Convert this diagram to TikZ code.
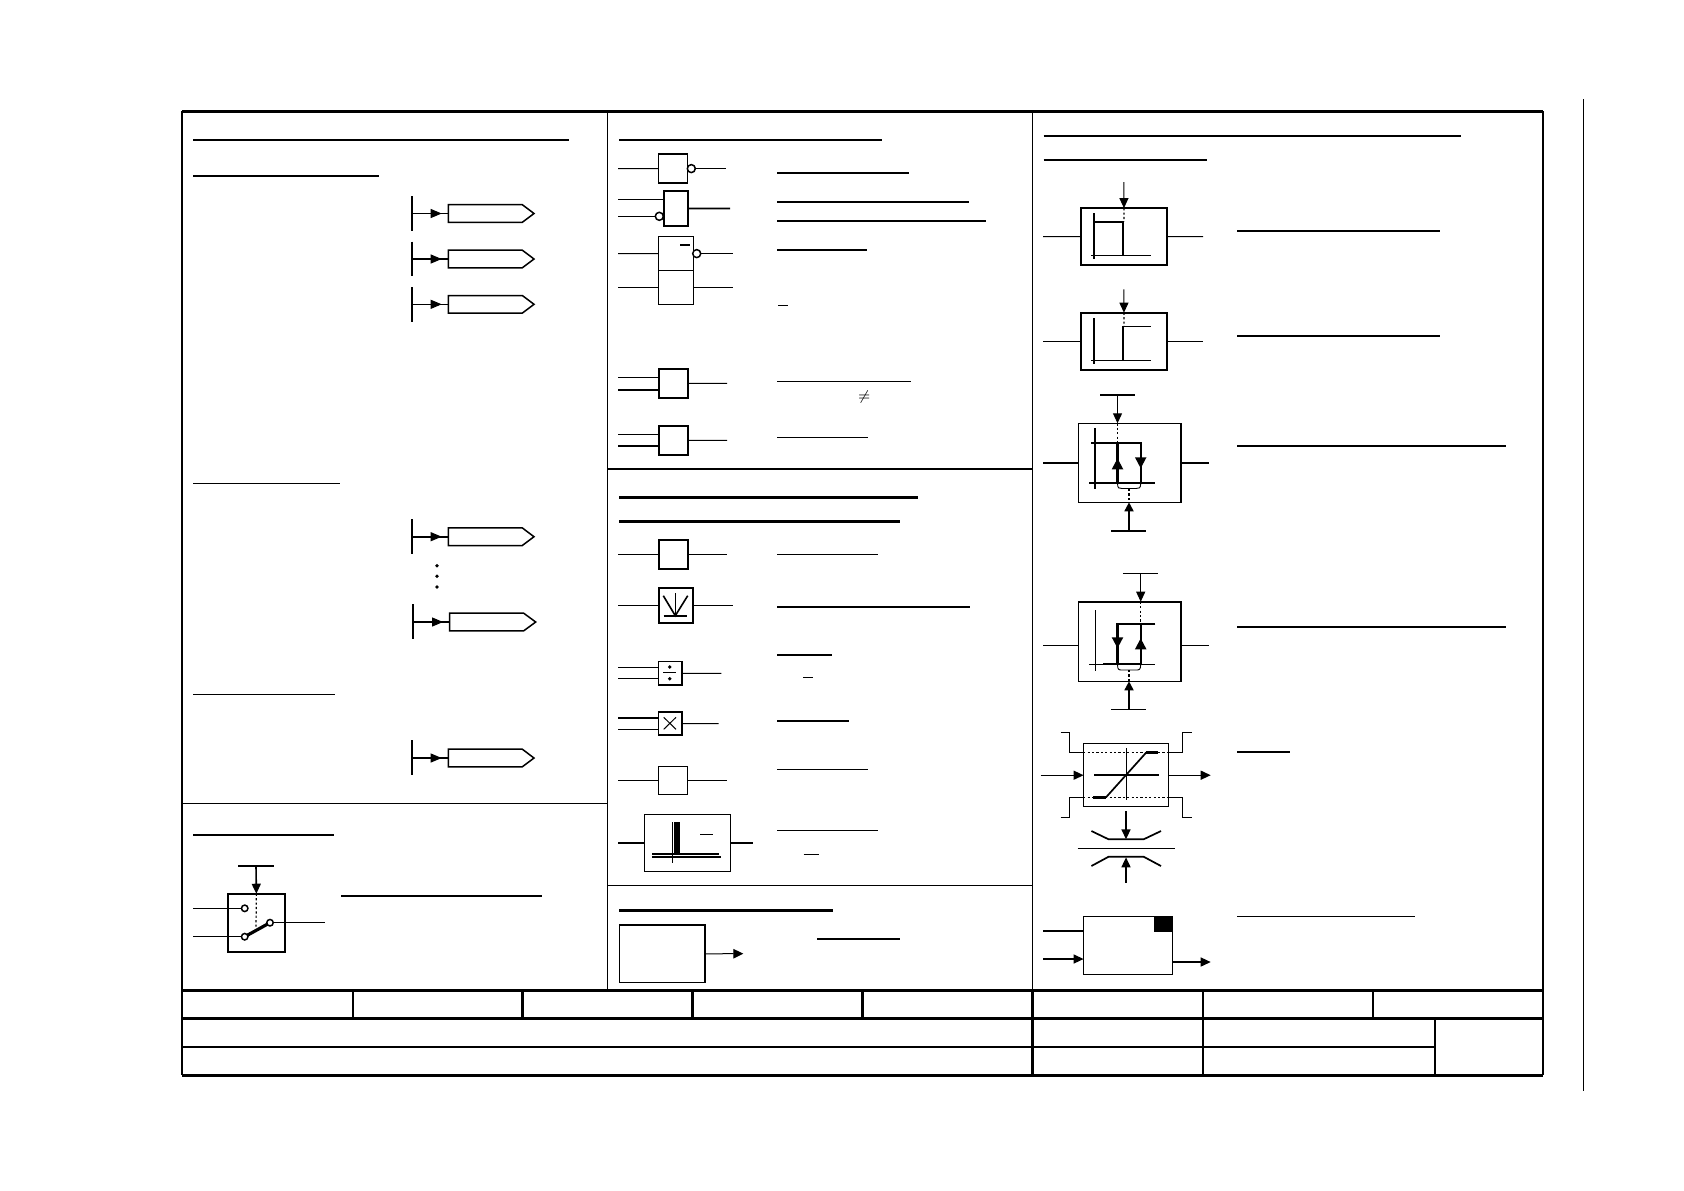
\documentclass[tikz,border=0pt]{standalone}
\usetikzlibrary{arrows.meta,calc}
\tikzset{
  x=0.5pt,y=-0.5pt,
  lw/.style={line width=#1*0.5pt},
  arr/.style={-{Triangle[length=#1*0.5pt,width=9*0.5pt]}},
  arr/.default=10,
  barr/.style={-{Triangle[length=11*0.5pt,width=11*0.5pt]}},
  dots/.style={lw=1.2,dash pattern=on 1.1pt off 1.1pt},
  hollow/.style={draw,circle,fill=white,lw=1.5,inner sep=0pt,minimum size=#1*0.5pt,outer sep=0pt},
}
% box: name, x1,y1,x2,y2, line width
\newcommand{\bx}[6]{%
  \pgfmathsetmacro{\bw}{(#4-#2)*0.5}\pgfmathsetmacro{\bh}{(#5-#3)*0.5}%
  \node[draw,lw=#6,anchor=north west,inner sep=0pt,outer sep=0pt,minimum width=\bw pt,minimum height=\bh pt] (#1) at (#2+0.4,#3+0.4) {};}
% signal symbol: name, bar x, bar y1, bar y2, box x, y mid, shoulder x, tip x, wire width
\newcommand{\sig}[9]{%
  \coordinate (#1t) at (#2,#3);\coordinate (#1b) at (#2,#4);\coordinate (#1m) at (#2,#6);
  \coordinate (#1l) at (#5,#6);\coordinate (#1h) at ($(#1l)+(-6.6,0)$);
  \draw[lw=1.7] (#1t)--(#1b);
  \draw[lw=#9] (#1m)--(#1l);
  \draw[lw=1,arr=11] ($(#1h)+(-11,0)$)--(#1h);
  \draw[lw=1.5] (#5,#6-8.8)--(#7,#6-8.8)--(#8,#6)--(#7,#6+8.8)--(#5,#6+8.8)--cycle;}
% underline
\newcommand{\ul}[4]{\coordinate (u1) at (#2,#1);\coordinate (u2) at (#3,#1);\draw[lw=#4] (u1)--(u2);}
\begin{document}
\begin{tikzpicture}
\useasboundingbox (0,0) rectangle (1684,1190);
\fill[white] (0,0) rectangle (1684,1190);
% ===== frame
\coordinate (fnw) at (182,111.3);\coordinate (fne) at (1542.9,111.3);
\coordinate (fsw) at (182,1075.3);\coordinate (fse) at (1542.9,1075.3);
\draw[lw=3] (fnw)--(fne);\draw[lw=3] (fsw)--(fse);
\draw[lw=2.2] (fnw)--(fsw);\draw[lw=1.9] (fne)--(fse);
\draw[lw=1.1] (1583.6,99)--(1583.6,1090.7);
% panels
\draw[lw=1.2] (607.3,111.3)--(607.3,990.7);
\draw[lw=1.2] (1032.4,111.3)--(1032.4,990.7);
\draw[lw=1] (182,803.3)--(607,803.3);
\draw[lw=1.6] (607,469)--(1032.4,469);
\draw[lw=1] (607,885.3)--(1032.4,885.3);
% title block
\draw[lw=3] (182,990.7)--(1542.9,990.7);
\draw[lw=3] (182,1018.3)--(1542.9,1018.3);
\draw[lw=2] (182,1047)--(1435,1047);
\foreach \xx in {352.7,522.3,692.3,862.3}{\draw[lw=2.4] (\xx,990.7)--(\xx,1018.3);}
\draw[lw=2.6] (1032.4,990.7)--(1032.4,1075.3);
\draw[lw=2] (1202.9,990.7)--(1202.9,1075.3);
\draw[lw=1.4] (1373,990.7)--(1373,1018.3);
\draw[lw=1.6] (1435,1018.3)--(1435,1075.3);
% ===== left panel
\ul{140}{193}{569}{2}\ul{176}{193}{379}{2}
\ul{483.3}{193}{340}{1}\ul{694.3}{193}{335}{1}
\ul{834.7}{193}{334}{1.7}\ul{896}{341}{542}{2}
\sig{sa}{411.7}{196}{230.7}{448.3}{213.5}{522.3}{534}{1}
\sig{sb}{411.7}{241.7}{276}{448.3}{259}{522.3}{534}{1.6}
\sig{sc}{411.7}{287}{321.7}{448.3}{304.3}{522.3}{534}{1}
\sig{sd}{411.7}{519.3}{554}{448.3}{536.7}{522.3}{534}{1.6}
\sig{se}{413}{604.3}{639}{449.7}{622}{523.7}{535.7}{1.6}
\sig{sf}{411.7}{740.3}{775}{448.3}{758}{522.3}{534}{1.3}
\foreach \yy in {565.7,576.3,587}{\fill (437,\yy) circle (1.9);}
% switch
\bx{sw}{227.3}{893.3}{284.7}{951.3}{1.6}
\coordinate (swa) at (238.3,866);\coordinate (swb) at (273.7,866);\coordinate (swc) at (256,866);
\draw[lw=1.6] (swa)--(swb);
\draw[lw=1.6,arr] (swc)--(sw.north);
\draw[dots] (sw.north)--(256,926.7);
\coordinate (swi1) at (193,908.3);\coordinate (swi2) at (193,936.7);\coordinate (swo) at (325,922.7);
\node[hollow=6.5] (c1) at (244.7,908.3) {};
\draw[lw=3.2] (244.7,936.7)--(270,922.7);
\node[hollow=6.5] (c2) at (244.7,936.7) {};
\node[hollow=6.5] (c3) at (270,922.7) {};
\draw[lw=1] (swi1)--(c1);\draw[lw=1] (swi2)--(c2);\draw[lw=1] (c3)--(swo);
% ===== middle panel, top
\ul{140}{619}{882}{2}
\bx{g1}{658.3}{153.7}{687.3}{182.7}{1.4}
\node[hollow=8] (g1c) at (691.3,168.6) {};
\coordinate (g1i) at (618,168.6);\coordinate (g1o) at (725.7,168.6);
\draw[lw=1] (g1i)--(g1.west);\draw[lw=1] (g1c)--(g1o);
\ul{172.7}{777}{909}{1.7}
\bx{g2}{663.7}{190.7}{687.3}{225.3}{1.7}
\node[hollow=8] (g2c) at (659.3,216.3) {};
\coordinate (g2a) at (618,199.3);\coordinate (g2b) at (618,216.3);\coordinate (g2o) at (730,208.4);
\draw[lw=1] (g2a)--(g2.west|-g2a);\draw[lw=1] (g2b)--(g2c);\draw[lw=1.7] (g2.east)--(g2o);
\ul{201.7}{777}{969}{1.7}\ul{221}{777}{986}{1.7}
\bx{g3a}{658.3}{236}{692.7}{270.3}{1.2}
\bx{g3b}{658.3}{270.3}{692.7}{304.3}{1.2}
\node[hollow=8] (g3c) at (696.7,253.6) {};
\coordinate (g3i) at (618,253.6);\coordinate (g3j) at (618,287.7);\coordinate (g3o) at (733,253.6);\coordinate (g3p) at (733,287.7);
\draw[lw=1] (g3i)--(g3a.west);\draw[lw=1] (g3j)--(g3b.west);\draw[lw=1] (g3c)--(g3o);\draw[lw=1] (g3b.east)--(g3p);
\draw[lw=1.6] (680.3,245)--(690,245);
\ul{250}{777}{867}{1.7}\ul{305.7}{778.3}{788.3}{1}
\bx{g4}{658.3}{368.7}{687.3}{397.3}{1.7}
\coordinate (g4a) at (618,377.3);\coordinate (g4b) at (618,390);\coordinate (g4o) at (727,383.4);
\draw[lw=1] (g4a)--(g4.west|-g4a);\draw[lw=1.6] (g4b)--(g4.west|-g4b);\draw[lw=1] (g4.east)--(g4o);
\ul{381.3}{777}{911}{1}
\node[inner sep=0pt,font=\fontsize{7}{8}\selectfont] (ne) at (864.3,396.7) {$\neq$};
\bx{g5}{658.3}{425.7}{687.3}{454.3}{1.7}
\coordinate (g5a) at (618,434.3);\coordinate (g5b) at (618,446);\coordinate (g5o) at (727,440.4);
\draw[lw=1] (g5a)--(g5.west|-g5a);\draw[lw=1.6] (g5b)--(g5.west|-g5b);\draw[lw=1] (g5.east)--(g5o);
\ul{437.3}{777}{868}{1}
% ===== middle panel, centre
\ul{497.3}{619}{918}{3}\ul{521.7}{619}{900}{3}
\bx{g6}{658.3}{539.3}{687.3}{568.3}{1.6}
\coordinate (g6i) at (618,554.2);\coordinate (g6o) at (727,554.2);
\draw[lw=1] (g6i)--(g6.west);\draw[lw=1] (g6.east)--(g6o);
\ul{554.3}{777}{878}{1}
\bx{g7}{658.3}{587.3}{692.7}{622.3}{1.7}
\coordinate (g7i) at (618,605.2);\coordinate (g7o) at (733,605.2);
\draw[lw=1] (g7i)--(g7.west);\draw[lw=1] (g7.east)--(g7o);
\draw[lw=1.6] (663.3,595.7)--(675.3,615.7)--(687.7,595.7);
\draw[lw=1] (675.3,593)--(675.3,615.7);
\draw[lw=1.6] (663.7,615.7)--(687.3,615.7);
\ul{607}{777}{970}{1.7}
\bx{g8}{658.3}{661.3}{681.7}{684.7}{1.5}
\coordinate (g8a) at (618,667);\coordinate (g8b) at (618,678.3);\coordinate (g8o) at (721.3,673.4);
\draw[lw=1] (g8a)--(g8.west|-g8a);\draw[lw=1] (g8b)--(g8.west|-g8b);\draw[lw=1] (g8.east)--(g8o);
\draw[lw=1.2] (663.3,672.7)--(676,672.7);
\fill (669.7,667) circle (1.9);\fill (669.7,678.7) circle (1.9);
\ul{654.7}{777}{832}{1.7}\ul{677.3}{803}{813}{1}
\bx{g9}{658.3}{711.7}{681.7}{734.7}{1.5}
\coordinate (g9a) at (618,718);\coordinate (g9b) at (618,729.3);\coordinate (g9o) at (718.7,723.6);
\draw[lw=1.7] (g9a)--(g9.west|-g9a);\draw[lw=1] (g9b)--(g9.west|-g9b);\draw[lw=1] (g9.east)--(g9o);
\draw[lw=1] (663.7,717.3)--(676,729.3);\draw[lw=1] (676,717.3)--(663.7,729.3);
\ul{720.7}{777}{849}{1.7}
\bx{g10}{658.3}{766.3}{687.3}{794.3}{1.5}
\coordinate (g10i) at (618,780.7);\coordinate (g10o) at (727,780.7);
\draw[lw=1] (g10i)--(g10.west);\draw[lw=1] (g10.east)--(g10o);
\ul{769.3}{777}{868}{1}
\bx{g11}{644.3}{814.3}{729.7}{871.3}{1.2}
\coordinate (g11i) at (618,843.2);\coordinate (g11o) at (752.7,843.2);
\draw[lw=1.6] (g11i)--(g11.west);\draw[lw=1.6] (g11.east)--(g11o);
\draw[lw=1] (672.3,822)--(672.3,863.3);
\fill (674,822) rectangle (680,853.3);
\draw[lw=2] (652,854)--(719,854);
\draw[lw=1.7] (652,857)--(721.3,857);
\draw[lw=1] (700.3,834.3)--(713,834.3);
\ul{830.3}{777}{878}{1}\ul{854.3}{803.7}{819}{1}
\ul{910.3}{619}{833}{2.7}
\bx{g12}{619}{924.7}{704.3}{982}{1.7}
\coordinate (g12o) at (743.3,953.7);
\draw[lw=1,-{Triangle[length=5pt,width=4.8pt]}] (g12.east)--(g12o);
\ul{939}{817}{900}{1.7}
% ===== right panel
\ul{135.7}{1043.6}{1461}{2}\ul{160}{1043.6}{1207}{2}
% box A
\bx{ra}{1080.7}{207.7}{1166.4}{264.7}{1.9}
\coordinate (rai) at (1043.2,236.6);\coordinate (rao) at (1203.2,236.6);\coordinate (rat) at (1123.9,182);
\draw[lw=1] (rai)--(ra.west);\draw[lw=1] (ra.east)--(rao);
\draw[lw=1,arr] (rat)--(ra.north);
\draw[dots] (ra.north)--(1123.9,221.7);
\draw[lw=1.5] (1094,213.3)--(1094,259.3);
\draw[lw=1.5] (1091.4,255.7)--(1150.7,255.7);
\draw[lw=1.5] (1094,222)--(1123.2,222)--(1123.2,255.7);
\ul{231}{1237}{1440}{1.7}
% box B
\bx{rb}{1080.7}{312.3}{1166.4}{369.3}{1.9}
\coordinate (rbi) at (1043.2,341.2);\coordinate (rbo) at (1203.2,341.2);\coordinate (rbt) at (1123.9,289.3);
\draw[lw=1] (rbi)--(rb.west);\draw[lw=1] (rb.east)--(rbo);
\draw[lw=1,arr] (rbt)--(rb.north);
\draw[dots] (rb.north)--(1123.9,326.7);
\draw[lw=1.5] (1094,318.3)--(1094,364);
\draw[lw=1.5] (1091.4,360.7)--(1150.7,360.7);
\draw[lw=1.5] (1123.2,360.7)--(1123.2,326.7)--(1150.7,326.7);
\ul{336}{1237}{1440}{1.7}
% box C
\bx{rc}{1077.9}{423.3}{1180.4}{502.3}{1.4}
\coordinate (rci) at (1043.2,463.2);\coordinate (rco) at (1208.6,463.2);
\draw[lw=1.6] (rci)--(rc.west);\draw[lw=1.6] (rc.east)--(rco);
\coordinate (rcta) at (1100.4,395);\coordinate (rctb) at (1135.4,395);\coordinate (rctc) at (1117.5,395);\coordinate (rctd) at (1117.5,423.3);
\draw[lw=1.7] (rcta)--(rctb);
\draw[lw=1,arr] (rctc)--(rctd);
\draw[dots] (rctd)--(1117.5,442.7);
\draw[lw=1.3] (1095,428.3)--(1095,489);
\draw[lw=1.7] (1089,483)--(1155.4,483);
\draw[lw=2.2] (1091.4,442.7)--(1140.7,442.7)--(1140.7,483);
\draw[lw=2.2] (1117.5,442.7)--(1117.5,483);
\draw[lw=2,barr] (1117.5,471)--(1117.5,458.3);
\draw[lw=2,barr] (1140.7,455.7)--(1140.7,468.3);
\draw[lw=0.9] (1117.5,483) .. controls (1117.5,488.5) and (1119,488.5) .. (1122,488.5)--(1136,488.5) .. controls (1139,488.5) and (1140.7,488.5) .. (1140.7,483);
\coordinate (rcba) at (1111.4,531);\coordinate (rcbb) at (1146.4,531);\coordinate (rcbc) at (1129,531);\coordinate (rcbd) at (1129,502.3);
\draw[dots] (1129,489)--(rcbd);
\draw[lw=1.7] (rcba)--(rcbb);
\draw[lw=1.7,arr=9] (rcbc)--(rcbd);
\ul{446}{1237}{1506}{1.7}
% box D
\bx{rd}{1077.9}{601.7}{1180.4}{681.3}{1.4}
\coordinate (rdi) at (1043.2,645);\coordinate (rdo) at (1208.6,645);
\draw[lw=1] (rdi)--(rd.west|-rdi);\draw[lw=1] (rd.east|-rdo)--(rdo);
\coordinate (rdta) at (1122.9,573.7);\coordinate (rdtb) at (1157.9,573.7);\coordinate (rdtc) at (1140.7,573.7);\coordinate (rdtd) at (1140.7,601.7);
\draw[lw=1.5] (rdta)--(rdtb);
\draw[lw=1,arr] (rdtc)--(rdtd);
\draw[dots] (rdtd)--(1140.7,624.3);
\draw[lw=1] (1095,610)--(1095,670.7);
\draw[lw=1] (1089,664.3)--(1155,664.3);
\draw[lw=2.2] (1103.2,664.3)--(1140.7,664.3);
\draw[lw=2.2] (1155.4,624.3)--(1117.5,624.3)--(1117.5,664.3);
\draw[lw=2.2] (1140.7,624.3)--(1140.7,664.3);
\draw[lw=2,barr] (1117.5,636)--(1117.5,648.3);
\draw[lw=2,barr] (1140.7,651)--(1140.7,638.3);
\draw[lw=0.9] (1117.5,664.3) .. controls (1117.5,670) and (1119,670) .. (1122,670)--(1136,670) .. controls (1139,670) and (1140.7,670) .. (1140.7,664.3);
\coordinate (rdba) at (1111.4,709.3);\coordinate (rdbb) at (1146.4,709.3);\coordinate (rdbc) at (1129,709.3);\coordinate (rdbd) at (1129,681.3);
\draw[dots] (1129,670)--(rdbd);
\draw[lw=1] (rdba)--(rdbb);
\draw[lw=1.7,arr=9] (rdbc)--(rdbd);
\ul{627}{1237}{1506}{1.7}
% box E
\bx{re}{1083.2}{743.3}{1168.2}{806.3}{1.3}
\coordinate (rei) at (1040.7,775.2);\coordinate (reo) at (1210.7,775.2);
\draw[lw=1.4,arr] (rei)--(re.west);\draw[lw=1.4,arr] (re.east)--(reo);
\draw[lw=1] (1060.7,732.3)--(1069.3,732.3)--(1069.3,752.3)--(1083.2,752.3);
\draw[lw=1] (1191.8,732.3)--(1182.9,732.3)--(1182.9,752.3)--(1168.2,752.3);
\draw[lw=1] (1060.7,817.3)--(1069.3,817.3)--(1069.3,797.3)--(1083.2,797.3);
\draw[lw=1] (1191.8,817.3)--(1182.9,817.3)--(1182.9,797.3)--(1168.2,797.3);
\draw[dots] (1083.2,752.3)--(1168.2,752.3);
\draw[dots] (1083.2,797.3)--(1168.2,797.3);
\draw[lw=1.4] (1094.3,775)--(1158.9,775);
\draw[lw=1] (1126.4,748.3)--(1126.4,800);
\draw[lw=2.4] (1093.2,797.3)--(1106,797.3);
\draw[lw=2.4] (1146.4,752.3)--(1157.9,752.3);
\draw[lw=1.7] (1106,797.3)--(1146.4,752.3);
\ul{752}{1237}{1290}{1.7}
\coordinate (rea) at (1126,811.3);\coordinate (reb) at (1126,839.3);
\draw[lw=1.6,arr] (rea)--(reb);
\draw[lw=1.7] (1091.4,831)--(1108.6,839.3)--(1143.6,839.3)--(1161,831);
\draw[lw=1] (1077.5,848.3)--(1175,848.3);
\draw[lw=1.7] (1091.4,866)--(1108.6,856.7)--(1143.6,856.7)--(1161,866);
\coordinate (rec) at (1126,882.7);\coordinate (red) at (1126,857.3);
\draw[lw=1.6,arr] (rec)--(red);
% box F
\bx{rf}{1083.2}{916.3}{1171.8}{973.7}{1.1}
\fill (1153.9,916.3) rectangle (1172.2,931.7);
\coordinate (rfa) at (1043.2,931);\coordinate (rfb) at (1043.2,959);\coordinate (rfo) at (1210.7,962);
\draw[lw=1.4] (rfa)--(rf.west|-rfa);
\draw[lw=1.4,arr] (rfb)--(rf.west|-rfb);
\draw[lw=1.4,arr] (rf.east|-rfo)--(rfo);
\ul{916.7}{1237}{1415}{1}
\end{tikzpicture}
\end{document}
